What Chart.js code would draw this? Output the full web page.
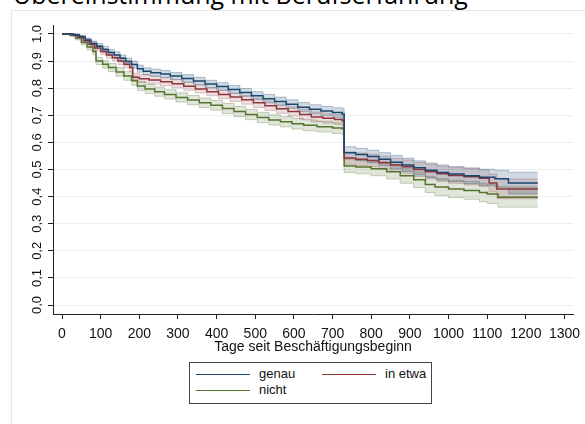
<!DOCTYPE html>
<html>
<head>
<meta charset="utf-8">
<script src="https://cdn.jsdelivr.net/npm/chart.js@4.4.0/dist/chart.umd.min.js"></script>
<style>
  body { margin: 0; background: #fff; width: 585px; height: 424px; overflow: hidden; position: relative; font-family: "Liberation Sans", Arial, sans-serif; }
  #frame { position: absolute; left: 11px; top: 10px; right: -5px; bottom: -5px; border-left: 1px solid #e1eaea; border-top: 1px solid #e1eaea; }
  #title { position: absolute; left: 13px; top: -18px; font-family: "Open Sans", sans-serif; font-size: 25px; line-height: 25px; white-space: nowrap; color: #000; }
  #chart { position: absolute; left: 0; top: 0; }
  #legend { position: absolute; left: 189px; top: 362px; width: 241px; height: 40px; border: 1px solid #444; background: #fff; font-size: 13px; color: #111; }
  .item { position: absolute; height: 16px; line-height: 16px; white-space: nowrap; }
  .item span.ln { display: inline-block; width: 54px; height: 0; border-top: 1.5px solid; vertical-align: middle; margin-right: 9px; }
</style>
</head>
<body>
<div id="frame"></div>
<div id="title">Übereinstimmung mit Berufserfahrung</div>
<canvas id="chart" width="585" height="424"></canvas>
<div id="legend"></div>
<script>
const groups = ["genau", "in etwa", "nicht"];
const lineColors = ["#1a476f", "#90353b", "#55752f"];
const bandFill = ["rgba(26,71,111,0.2)", "rgba(144,53,59,0.16)", "rgba(85,117,47,0.18)"];
const bandEdge = ["rgba(26,71,111,0.3)", "rgba(144,53,59,0.25)", "rgba(85,117,47,0.3)"];

const xTicks = [0, 100, 200, 300, 400, 500, 600, 700, 800, 900, 1000, 1100, 1200, 1300];
const yTicks = [0, 0.1, 0.2, 0.3, 0.4, 0.5, 0.6, 0.7, 0.8, 0.9, 1.0];

// genau
const daysGenau = [0, 30, 45, 60, 75, 90, 105, 120, 135, 150, 165, 180, 195, 210, 230, 255, 280, 310, 340, 370, 400, 430, 460, 490, 520, 550, 580, 610, 640, 670, 700, 725, 730, 760, 790, 820, 850, 880, 910, 940, 970, 1000, 1040, 1080, 1120, 1155, 1231];
const survGenau = [1.0, 0.997, 0.99, 0.978, 0.965, 0.955, 0.943, 0.932, 0.922, 0.91, 0.898, 0.887, 0.872, 0.862, 0.857, 0.852, 0.845, 0.836, 0.826, 0.815, 0.806, 0.795, 0.784, 0.772, 0.761, 0.751, 0.741, 0.73, 0.722, 0.716, 0.71, 0.705, 0.562, 0.555, 0.548, 0.538, 0.527, 0.517, 0.506, 0.497, 0.489, 0.483, 0.477, 0.471, 0.466, 0.45, 0.45];
const hiGenau = [1.0, 1.0, 0.995, 0.985, 0.974, 0.965, 0.954, 0.943, 0.934, 0.922, 0.911, 0.9, 0.885, 0.875, 0.87, 0.865, 0.858, 0.85, 0.84, 0.829, 0.82, 0.81, 0.799, 0.787, 0.777, 0.767, 0.757, 0.747, 0.739, 0.733, 0.728, 0.724, 0.584, 0.578, 0.571, 0.562, 0.552, 0.542, 0.532, 0.524, 0.517, 0.511, 0.506, 0.501, 0.497, 0.49, 0.49];
const loGenau = [1.0, 0.994, 0.985, 0.971, 0.956, 0.945, 0.932, 0.921, 0.91, 0.898, 0.885, 0.874, 0.859, 0.849, 0.844, 0.839, 0.832, 0.822, 0.812, 0.801, 0.792, 0.78, 0.769, 0.757, 0.745, 0.735, 0.725, 0.713, 0.705, 0.699, 0.692, 0.686, 0.54, 0.532, 0.525, 0.514, 0.502, 0.492, 0.48, 0.47, 0.461, 0.455, 0.448, 0.441, 0.435, 0.41, 0.41];

// in etwa
const daysEtwa = [0, 25, 40, 55, 70, 85, 100, 115, 130, 145, 160, 175, 183, 200, 225, 255, 285, 315, 345, 375, 405, 435, 465, 495, 525, 555, 585, 615, 645, 675, 705, 725, 730, 760, 790, 820, 850, 880, 910, 940, 970, 1000, 1040, 1080, 1105, 1125, 1231];
const survEtwa = [1.0, 0.996, 0.988, 0.975, 0.962, 0.948, 0.935, 0.922, 0.912, 0.9, 0.888, 0.876, 0.84, 0.835, 0.83, 0.824, 0.816, 0.807, 0.797, 0.787, 0.777, 0.767, 0.757, 0.746, 0.735, 0.724, 0.714, 0.703, 0.694, 0.689, 0.684, 0.68, 0.542, 0.538, 0.533, 0.525, 0.517, 0.51, 0.5, 0.492, 0.484, 0.478, 0.473, 0.468, 0.45, 0.428, 0.428];
const hiEtwa = [1.0, 1.0, 0.994, 0.983, 0.971, 0.958, 0.946, 0.934, 0.924, 0.913, 0.901, 0.89, 0.855, 0.85, 0.845, 0.839, 0.831, 0.822, 0.812, 0.802, 0.793, 0.783, 0.773, 0.763, 0.752, 0.741, 0.731, 0.721, 0.712, 0.707, 0.702, 0.698, 0.565, 0.561, 0.556, 0.549, 0.541, 0.535, 0.526, 0.519, 0.512, 0.507, 0.503, 0.499, 0.483, 0.465, 0.465];
const loEtwa = [1.0, 0.992, 0.982, 0.967, 0.953, 0.938, 0.924, 0.91, 0.9, 0.887, 0.875, 0.862, 0.825, 0.82, 0.815, 0.809, 0.801, 0.792, 0.782, 0.772, 0.761, 0.751, 0.741, 0.729, 0.718, 0.707, 0.697, 0.685, 0.676, 0.671, 0.666, 0.662, 0.519, 0.515, 0.51, 0.501, 0.493, 0.485, 0.474, 0.465, 0.456, 0.449, 0.443, 0.437, 0.417, 0.392, 0.392];

// nicht
const daysNicht = [0, 20, 35, 50, 65, 80, 88, 105, 120, 140, 160, 180, 195, 215, 240, 265, 295, 325, 355, 385, 415, 445, 475, 505, 535, 565, 595, 625, 660, 700, 725, 730, 760, 800, 840, 875, 910, 940, 965, 1000, 1040, 1080, 1100, 1128, 1231];
const survNicht = [1.0, 0.996, 0.985, 0.968, 0.952, 0.935, 0.9, 0.888, 0.876, 0.86, 0.845, 0.828, 0.808, 0.797, 0.787, 0.777, 0.766, 0.756, 0.746, 0.737, 0.725, 0.714, 0.703, 0.692, 0.683, 0.676, 0.669, 0.663, 0.658, 0.653, 0.649, 0.513, 0.509, 0.503, 0.492, 0.477, 0.462, 0.445, 0.435, 0.428, 0.423, 0.415, 0.41, 0.398, 0.398];
const hiNicht = [1.0, 1.0, 0.992, 0.977, 0.963, 0.947, 0.913, 0.902, 0.891, 0.876, 0.861, 0.845, 0.825, 0.814, 0.804, 0.794, 0.783, 0.773, 0.764, 0.755, 0.744, 0.733, 0.722, 0.711, 0.702, 0.695, 0.689, 0.683, 0.678, 0.673, 0.67, 0.538, 0.534, 0.529, 0.519, 0.505, 0.491, 0.475, 0.466, 0.46, 0.456, 0.449, 0.445, 0.436, 0.436];
const loNicht = [1.0, 0.991, 0.978, 0.959, 0.941, 0.923, 0.887, 0.874, 0.861, 0.844, 0.829, 0.811, 0.791, 0.78, 0.77, 0.76, 0.749, 0.739, 0.728, 0.719, 0.706, 0.695, 0.684, 0.673, 0.664, 0.657, 0.649, 0.643, 0.638, 0.633, 0.628, 0.489, 0.484, 0.477, 0.465, 0.449, 0.433, 0.415, 0.404, 0.396, 0.39, 0.381, 0.375, 0.361, 0.361];

const allDays = [daysGenau, daysEtwa, daysNicht];
const allSurv = [survGenau, survEtwa, survNicht];
const allHi = [hiGenau, hiEtwa, hiNicht];
const allLo = [loGenau, loEtwa, loNicht];

function pts(days, vals) {
    return days.map((d, i) => ({ x: d, y: vals[i] }));
}

let datasets = [];
groups.forEach((g, k) => {
    datasets.push({
        label: g,
        data: pts(allDays[k], allSurv[k]),
        borderColor: lineColors[k],
        borderWidth: 1.5,
        stepped: true,
        fill: false,
        pointRadius: 0
    });
});
groups.forEach((g, k) => {
    datasets.push({
        label: g + " hi",
        data: pts(allDays[k], allHi[k]),
        borderColor: bandEdge[k],
        borderWidth: 1,
        stepped: true,
        fill: false,
        pointRadius: 0
    });
    datasets.push({
        label: g + " lo",
        data: pts(allDays[k], allLo[k]),
        borderColor: bandEdge[k],
        backgroundColor: bandFill[k],
        borderWidth: 1,
        stepped: true,
        fill: "-1",
        pointRadius: 0
    });
});

Chart.defaults.font.family = "'Liberation Sans', Arial, sans-serif";

new Chart(document.getElementById("chart"), {
    type: "line",
    data: { datasets: datasets },
    options: {
        responsive: false,
        animation: false,
        layout: { padding: { left: 12, top: 25, right: 12, bottom: 60 } },
        plugins: {
            legend: { display: false },
            tooltip: { enabled: false }
        },
        scales: {
            x: {
                type: "linear",
                min: -23.3,
                max: 1322,
                afterBuildTicks: s => { s.ticks = xTicks.map(v => ({ value: v })); },
                afterFit: s => { s.height = 50; s.paddingLeft = 0; s.paddingRight = 0; },
                border: { color: "#222", width: 1 },
                grid: { drawOnChartArea: false, tickColor: "#222", tickLength: 5 },
                ticks: {
                    autoSkip: false, maxRotation: 0, minRotation: 0, padding: 7,
                    color: "#111", font: { size: 14 },
                    callback: v => String(v)
                },
                title: {
                    display: true, text: "Tage seit Beschäftigungsbeginn",
                    color: "#111", font: { size: 14 }, padding: { top: 0, bottom: 8 }
                }
            },
            y: {
                min: -0.033,
                max: 1.033,
                afterBuildTicks: s => { s.ticks = yTicks.map(v => ({ value: v })); },
                afterFit: s => { s.width = 41; s.paddingTop = 0; s.paddingBottom = 0; },
                border: { color: "#222", width: 1 },
                grid: { color: "#e8f0f2", lineWidth: 1, tickColor: "#222", tickLength: 5 },
                ticks: {
                    minRotation: 90, maxRotation: 90, crossAlign: "center", padding: 2,
                    color: "#111", font: { size: 13 },
                    callback: v => v.toFixed(1).replace(".", ",")
                }
            }
        }
    }
});

// legend in a box below the plot, two columns
const legend = document.getElementById("legend");
const slots = [[6, 3], [132, 3], [6, 19]];
groups.forEach((g, k) => {
    const el = document.createElement("div");
    el.className = "item";
    el.style.left = slots[k][0] + "px";
    el.style.top = slots[k][1] + "px";
    el.innerHTML = '<span class="ln" style="border-color:' + lineColors[k] + '"></span>' + g;
    legend.appendChild(el);
});
</script>
</body>
</html>
